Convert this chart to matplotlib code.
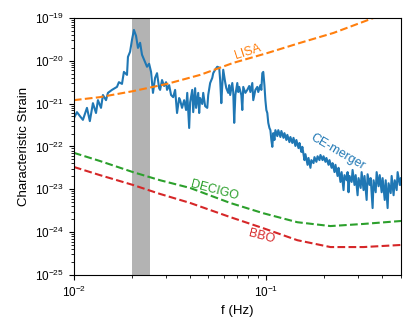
import matplotlib
matplotlib.use("Agg")
import matplotlib.pyplot as plt
import numpy as np

plt.rcParams["font.family"] = ["Liberation Sans", "DejaVu Sans"]
plt.rcParams["mathtext.fontset"] = "custom"
plt.rcParams["mathtext.rm"] = "Liberation Sans"
plt.rcParams["mathtext.it"] = "Liberation Sans:italic"
plt.rcParams["mathtext.bf"] = "Liberation Sans:bold"

# -- data (log10 units) --------------------------------------------------------
lisa_logf = [-2.000, -1.865, -1.693, -1.516, -1.344, -1.172, -0.995, -0.823, -0.651, -0.443, -0.301]
lisa_logh = [-20.92, -20.85, -20.71, -20.54, -20.33, -20.05, -19.82, -19.58, -19.35, -19.00, -18.75]

decigo_logf = [-2.000, -1.865, -1.693, -1.552, -1.396, -1.188, -1.016, -0.839, -0.667, -0.495, -0.297]
decigo_logh = [-22.15, -22.34, -22.60, -22.79, -22.97, -23.32, -23.56, -23.77, -23.86, -23.81, -23.74]

bbo_logf = [-2.000, -1.865, -1.693, -1.552, -1.396, -1.188, -1.016, -0.839, -0.667, -0.495, -0.297]
bbo_logh = [-22.48, -22.67, -22.90, -23.11, -23.32, -23.65, -23.91, -24.19, -24.35, -24.35, -24.30]

ce_logf = [
    -2.000, -1.984, -1.969, -1.953, -1.932, -1.917, -1.901, -1.885, -1.875, -1.859,
    -1.849, -1.833, -1.823, -1.802, -1.776, -1.766, -1.750, -1.740, -1.724, -1.719,
    -1.708, -1.698, -1.688, -1.677, -1.667, -1.656, -1.646, -1.635, -1.620, -1.609,
    -1.599, -1.594, -1.589, -1.578, -1.568, -1.557, -1.552, -1.542, -1.531, -1.521,
    -1.516, -1.505, -1.495, -1.484, -1.474, -1.464, -1.453, -1.448, -1.438, -1.427,
    -1.417, -1.411, -1.401, -1.396, -1.385, -1.380, -1.370, -1.365, -1.354, -1.349,
    -1.344, -1.333, -1.328, -1.318, -1.307, -1.302, -1.292, -1.281, -1.276, -1.266,
    -1.255, -1.245, -1.240, -1.234, -1.229, -1.224, -1.214, -1.208, -1.198, -1.193,
    -1.188, -1.177, -1.172, -1.167, -1.161, -1.151, -1.146, -1.141, -1.130, -1.125,
    -1.120, -1.109, -1.099, -1.089, -1.083, -1.073, -1.068, -1.057, -1.047, -1.042,
    -1.031, -1.026, -1.021, -1.016, -1.010, -1.005, -1.000, -0.995, -0.990, -0.984,
    -0.979, -0.974, -0.969, -0.964, -0.958, -0.953, -0.943, -0.938, -0.927, -0.922,
    -0.911, -0.906, -0.896, -0.891, -0.880, -0.875, -0.865, -0.859, -0.849, -0.844,
    -0.833, -0.828, -0.818, -0.813, -0.802, -0.797, -0.786, -0.781, -0.771, -0.766,
    -0.755, -0.750, -0.740, -0.734, -0.724, -0.719, -0.708, -0.703, -0.693, -0.688,
    -0.677, -0.672, -0.661, -0.656, -0.646, -0.641, -0.630, -0.625, -0.615, -0.609,
    -0.599, -0.594, -0.583, -0.578, -0.573, -0.568, -0.557, -0.552, -0.542, -0.536,
    -0.526, -0.521, -0.510, -0.505, -0.495, -0.490, -0.479, -0.474, -0.464, -0.458,
    -0.448, -0.443, -0.432, -0.427, -0.417, -0.411, -0.401, -0.396, -0.385, -0.380,
    -0.370, -0.365, -0.354, -0.349, -0.339, -0.333, -0.323, -0.318, -0.307, -0.302,
    -0.297,
]
ce_logh = [
    -21.34, -21.20, -21.29, -21.38, -21.10, -21.41, -20.99, -21.22, -20.92, -21.10,
    -20.80, -20.92, -20.75, -20.68, -20.61, -20.50, -20.54, -20.26, -20.33, -19.91,
    -19.79, -19.51, -19.28, -19.42, -19.70, -19.58, -19.86, -19.98, -20.14, -20.07,
    -20.26, -20.52, -20.75, -20.40, -20.29, -20.64, -20.68, -20.45, -20.59, -20.50,
    -20.68, -20.57, -20.80, -20.85, -20.68, -21.22, -20.87, -20.92, -21.10, -20.92,
    -21.15, -20.75, -21.57, -20.97, -20.68, -21.20, -20.64, -21.10, -20.75, -21.22,
    -20.87, -21.01, -20.75, -21.06, -21.10, -20.80, -20.52, -20.40, -20.29, -20.21,
    -20.14, -20.16, -20.45, -20.99, -20.57, -20.21, -20.50, -20.64, -20.75, -20.57,
    -20.80, -20.52, -20.73, -21.45, -20.80, -20.52, -20.73, -20.61, -20.80, -21.15,
    -20.61, -20.75, -20.68, -20.59, -20.73, -20.52, -20.92, -20.68, -20.61, -20.73,
    -20.57, -20.68, -20.29, -20.26, -20.57, -20.92, -21.15, -21.22, -21.45, -21.57,
    -21.62, -21.85, -22.01, -21.69, -21.85, -21.62, -21.76, -21.62, -21.78, -21.64,
    -21.80, -21.69, -21.85, -21.73, -21.90, -21.78, -21.92, -21.80, -21.99, -21.85,
    -22.04, -21.92, -22.13, -22.01, -22.32, -22.18, -22.43, -22.27, -22.50, -22.32,
    -22.39, -22.25, -22.36, -22.23, -22.32, -22.20, -22.32, -22.23, -22.36, -22.27,
    -22.43, -22.32, -22.50, -22.39, -22.60, -22.43, -22.69, -22.50, -22.83, -22.60,
    -23.02, -22.67, -22.79, -22.60, -23.07, -22.69, -22.83, -22.55, -22.90, -22.67,
    -23.14, -22.74, -22.97, -22.60, -23.02, -22.69, -23.25, -22.65, -22.90, -22.74,
    -23.44, -22.79, -23.07, -22.60, -22.93, -22.67, -23.07, -22.74, -23.25, -22.79,
    -23.44, -22.86, -23.09, -22.69, -23.14, -22.79, -23.02, -22.60, -22.90, -22.74,
    -22.90,
]

band = (0.020, 0.025)

# -- figure --------------------------------------------------------------------
fig = plt.figure(figsize=(4.15, 3.32), dpi=100)
ax = fig.add_axes([0.178, 0.172, 0.788, 0.774])

ax.axvspan(band[0], band[1], color="0.7", lw=0, zorder=0)

ax.plot(10 ** np.array(ce_logf), 10 ** np.array(ce_logh), color="tab:blue", lw=1.5)
ax.plot(10 ** np.array(lisa_logf), 10 ** np.array(lisa_logh), "--", color="tab:orange", lw=1.5)
ax.plot(10 ** np.array(decigo_logf), 10 ** np.array(decigo_logh), "--", color="tab:green", lw=1.5)
ax.plot(10 ** np.array(bbo_logf), 10 ** np.array(bbo_logh), "--", color="tab:red", lw=1.5)

ax.set_xscale("log")
ax.set_yscale("log")
ax.set_xlim(1e-2, 0.5)
ax.set_ylim(1e-25, 1e-19)
ax.set_yticks([10.0 ** k for k in range(-25, -18)])

ax.set_xlabel("f (Hz)", fontsize=9.5)
ax.set_ylabel("Characteristic Strain", fontsize=9.5)
ax.tick_params(labelsize=8.5)

ax.text(0.080, 1.6e-20, "LISA", color="tab:orange", fontsize=9, rotation=18,
        ha="center", va="center")
ax.text(0.234, 7.4e-23, "CE-merger", color="tab:blue", fontsize=9, rotation=-30,
        ha="center", va="center")
ax.text(0.054, 9.5e-24, "DECIGO", color="tab:green", fontsize=9, rotation=-15,
        ha="center", va="center")
ax.text(0.095, 7.8e-25, "BBO", color="tab:red", fontsize=9, rotation=-15,
        ha="center", va="center")

fig.savefig("out.png", dpi=100, facecolor="white")
